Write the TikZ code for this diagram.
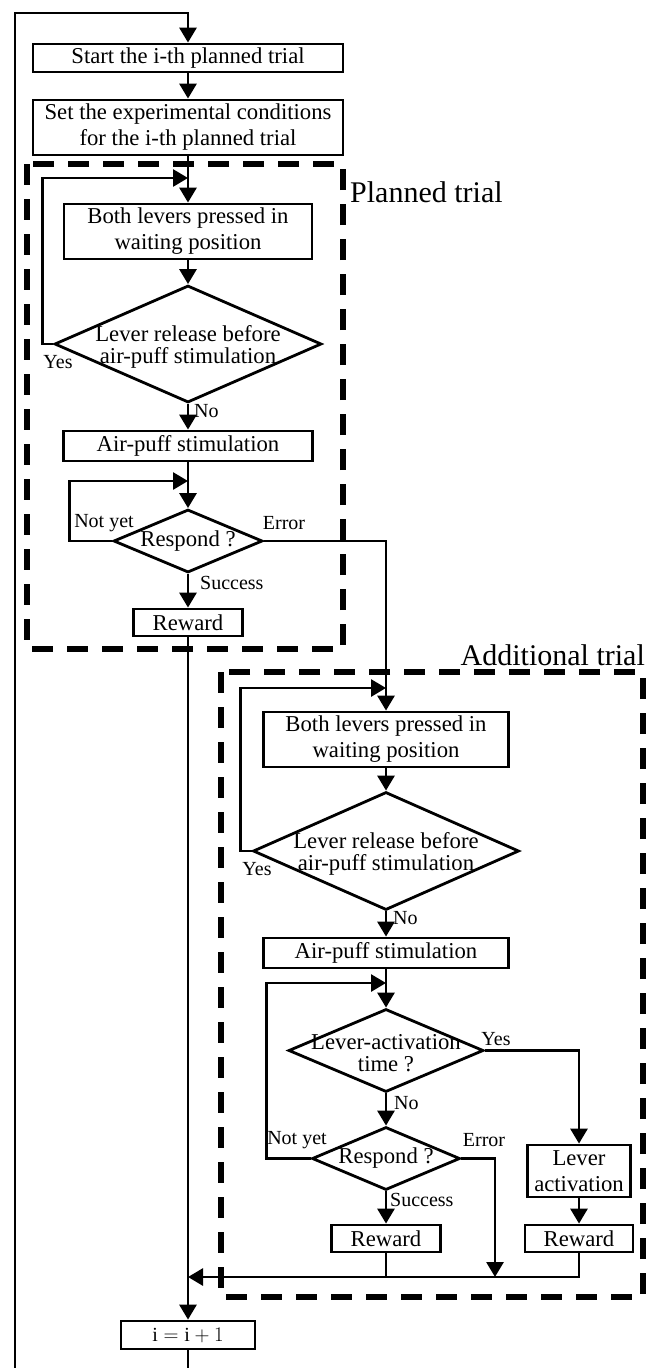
\documentclass[tikz,border=0pt]{standalone}
\usepackage{fontspec}
\setmainfont{Liberation Serif}
\usetikzlibrary{shapes.geometric, arrows.meta}

\tikzset{
  block/.style={draw, line width=2.8pt, align=center, inner sep=0pt, font=\fontsize{22.7}{26}\selectfont},
  decision/.style={draw, diamond, line width=2.8pt, inner sep=0pt},
  dtext/.style={align=center, inner sep=0pt, font=\fontsize{22.7}{22}\selectfont},
  lbl/.style={inner sep=0pt, font=\fontsize{20}{22}\selectfont},
  title/.style={inner sep=0pt, font=\fontsize{30}{32}\selectfont},
  trialbox/.style={line width=5.5pt, dash pattern=on 21pt off 14pt},
  flow/.style={line width=2.8pt, ->},
}

\begin{document}
\begin{tikzpicture}[x=1pt, y=-1pt, >={Triangle[length=15pt,width=17pt]}]
    \useasboundingbox (0,0) rectangle (657,1368);

    % Trial frames
    \draw[trialbox] (27,164) rectangle (343,649);
    \node[title, anchor=west] (plan) at (350,192) {Planned trial};
    \draw[trialbox] (221,672) rectangle (643,1297);
    \node[title, anchor=east] (addl) at (645,655) {Additional trial};

    % Planned trial
    \node[block, minimum width=310, minimum height=28] (start) at (188,58) {Start the i-th planned trial};
    \node[block, minimum width=310, minimum height=55] (set) at (188,127.5) {Set the experimental conditions\\for the i-th planned trial};
    \node[block, minimum width=248, minimum height=55] (lev1) at (188,231.5) {Both levers pressed in\\waiting position};
    \node[decision, minimum width=267, minimum height=117] (rel1) at (188,344) {};
    \node[dtext] (rel1t) at (188,347) {Lever release before\\air-puff stimulation};
    \node[block, minimum width=249, minimum height=30] (puff1) at (188,446) {Air-puff stimulation};
    \node[decision, minimum width=149, minimum height=63] (resp1) at (188,541) {};
    \node[dtext] (resp1t) at (188,541) {Respond ?};
    \node[block, minimum width=109, minimum height=27] (rew1) at (188,622.5) {Reward};

    % Additional trial
    \node[block, minimum width=245, minimum height=55] (lev2) at (386,739.5) {Both levers pressed in\\waiting position};
    \node[decision, minimum width=266, minimum height=118] (rel2) at (386,851) {};
    \node[dtext] (rel2t) at (386,854) {Lever release before\\air-puff stimulation};
    \node[block, minimum width=245, minimum height=30] (puff2) at (386,953) {Air-puff stimulation};
    \node[decision, minimum width=195, minimum height=83] (act) at (386,1050.5) {};
    \node[dtext] (actt) at (386,1053) {Lever-activation\\time ?};
    \node[decision, minimum width=148, minimum height=63] (resp2) at (386,1158.5) {};
    \node[dtext] (resp2t) at (386,1158.5) {Respond ?};
    \node[block, minimum width=109, minimum height=27] (rew2) at (386,1238.5) {Reward};
    \node[block, minimum width=103, minimum height=52] (levact) at (579,1171) {Lever\\activation};
    \node[block, minimum width=108, minimum height=27] (rew3) at (579,1238.5) {Reward};

    \node[block, minimum width=134, minimum height=28, font=\fontsize{20}{22}\selectfont] (inc) at (188,1335) {$\mathrm{i} = \mathrm{i} + 1$};

    % Branch labels
    \node[lbl] (yes1) at (58,362) {Yes};
    \node[lbl, anchor=west] (no1) at (194,411) {No};
    \node[lbl] (ny1) at (104,523) {Not yet};
    \node[lbl] (err1) at (284,523) {Error};
    \node[lbl, anchor=west] (suc1) at (200,583) {Success};
    \node[lbl] (yes2) at (257,869) {Yes};
    \node[lbl, anchor=west] (no2) at (393,918) {No};
    \node[lbl] (yes3) at (496,1039) {Yes};
    \node[lbl, anchor=west] (no3) at (394,1103) {No};
    \node[lbl] (ny2) at (297,1140) {Not yet};
    \node[lbl] (err2) at (484,1140) {Error};
    \node[lbl, anchor=west] (suc2) at (390,1200) {Success};

    % Junctions
    \coordinate (bl) at (15,1368);
    \coordinate (tl) at (15,13);
    \coordinate (j1) at (188,178);
    \coordinate (j2) at (188,481);
    \coordinate (j3) at (386,688);
    \coordinate (j4) at (386,983);
    \coordinate (m1) at (188,1277);
    \coordinate (m2) at (495,1277);

    % Connectors
    \draw[flow] (bl) -- (tl) -| (start);
    \draw[flow] (start) -- (set);
    \draw[flow] (set) -- (lev1);
    \draw[flow] (lev1) -- (rel1);
    \draw[flow] (rel1.west) -- ++(-11,0) |- (j1);
    \draw[flow] (rel1) -- (puff1);
    \draw[flow] (puff1) -- (resp1);
    \draw[flow] (resp1.west) -- ++(-43,0) |- (j2);
    \draw[flow] (resp1) -- (rew1);
    \draw[flow] (resp1.east) -| (lev2);
    \draw[flow] (lev2) -- (rel2);
    \draw[flow] (rel2.west) -- ++(-11,0) |- (j3);
    \draw[flow] (rel2) -- (puff2);
    \draw[flow] (puff2) -- (act);
    \draw[flow] (act) -- (resp2);
    \draw[flow] (act.east) -| (levact);
    \draw[flow] (levact) -- (rew3);
    \draw[flow] (resp2.west) -- ++(-44,0) |- (j4);
    \draw[flow] (resp2) -- (rew2);
    \draw[flow] (resp2.east) -| (m2);
    \draw[flow] (rew3.south) |- (m1);
    \draw[line width=2.8pt] (rew2.south) -- (rew2.south |- m1);
    \draw[flow] (rew1) -- (inc);
    \draw[line width=2.8pt] (inc) -- (inc.south |- bl);
\end{tikzpicture}
\end{document}
